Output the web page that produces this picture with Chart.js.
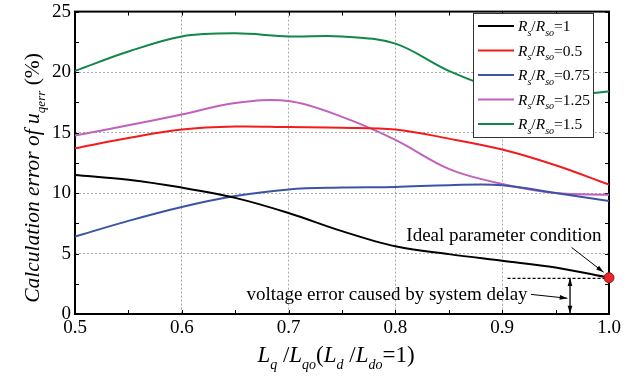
<!DOCTYPE html>
<html>
<head>
<meta charset="utf-8">
<script src="https://cdn.jsdelivr.net/npm/chart.js@4.4.1/dist/chart.umd.min.js"></script>
<style>
html, body { margin: 0; padding: 0; background: #fff; }
</style>
</head>
<body>
<canvas id="chart" width="638" height="380"></canvas>
<script>
// --- dados ---
const lqRatio = [0.5, 0.55, 0.6, 0.65, 0.7, 0.75, 0.8, 0.85, 0.9, 0.95, 1.0];

const errRs1    = [11.5, 11.1, 10.45, 9.6, 8.35, 6.85, 5.6, 4.95, 4.4, 3.85, 3.0];
const errRs050  = [13.7, 14.55, 15.25, 15.5, 15.45, 15.4, 15.25, 14.5, 13.6, 12.3, 10.7];
const errRs075  = [6.4, 7.7, 8.85, 9.75, 10.3, 10.45, 10.5, 10.65, 10.65, 10.0, 9.35];
const errRs125  = [14.75, 15.6, 16.5, 17.45, 17.6, 16.3, 14.4, 12.0, 10.75, 10.0, 9.85];
const errRs150  = [20.1, 21.7, 22.95, 23.2, 22.95, 22.95, 22.35, 20.1, 18.5, 18.05, 18.4];

const rsLabels = ['1', '0.5', '0.75', '1.25', '1.5'];
const seriesColors = ['#000000', '#f21c1c', '#3b54a5', '#c061bd', '#11884a'];

const xTicks = [0.5, 0.6, 0.7, 0.8, 0.9, 1.0];
const yTicks = [0, 5, 10, 15, 20, 25];

// anotações (coordenadas em unidades dos eixos)
const idealPoint = [1.0, 3.0];
const delayLine = [[0.905, 2.95], [1.0, 2.95]];
const delayArrow = [[0.9635, 0.05], [0.9635, 2.95]];
const idealText = 'Ideal parameter condition';
const delayText = 'voltage error caused by system delay';

const allSeries = [errRs1, errRs050, errRs075, errRs125, errRs150];
const serif = '"Liberation Serif", "Times New Roman", serif';
Chart.defaults.font.family = serif;

function isMajor(v, step) {
    const r = v / step;
    return Math.abs(r - Math.round(r)) < 1e-6;
}

function fontFor(st, size) {
    if (st === 's') return `italic ${Math.round(size * 0.62)}px ${serif}`;
    if (st === 'i') return `italic ${size}px ${serif}`;
    return `${size}px ${serif}`;
}

// desenha texto com índices (subscritos)
function richWidth(ctx, parts, size) {
    let w = 0;
    parts.forEach(([t, st]) => {
        ctx.font = fontFor(st, size);
        w += ctx.measureText(t).width;
    });
    return w;
}

function drawRich(ctx, parts, x, y, size, align) {
    let cx = align === 'center' ? x - richWidth(ctx, parts, size) / 2 : x;
    ctx.textAlign = 'left';
    ctx.textBaseline = 'alphabetic';
    parts.forEach(([t, st]) => {
        ctx.font = fontFor(st, size);
        const dy = st === 's' ? size * 0.3 : 0;
        ctx.fillText(t, cx, y + dy);
        cx += ctx.measureText(t).width;
    });
}

function arrowHead(ctx, x1, y1, x2, y2, len) {
    const a = Math.atan2(y2 - y1, x2 - x1);
    ctx.beginPath();
    ctx.moveTo(x2, y2);
    ctx.lineTo(x2 - len * Math.cos(a - 0.3), y2 - len * Math.sin(a - 0.3));
    ctx.lineTo(x2 - len * Math.cos(a + 0.3), y2 - len * Math.sin(a + 0.3));
    ctx.closePath();
    ctx.fill();
}

const framePlugin = {
    id: 'frame',
    beforeDatasetsDraw(chart) {
        const { ctx, chartArea: a, scales } = chart;
        ctx.save();
        ctx.strokeStyle = '#000';
        ctx.lineWidth = 1;
        // marcas internas
        scales.x.ticks.forEach(t => {
            const px = Math.round(scales.x.getPixelForValue(t.value)) + 0.5;
            ctx.beginPath();
            ctx.moveTo(px, a.bottom); ctx.lineTo(px, a.bottom - 4);
            ctx.moveTo(px, a.top); ctx.lineTo(px, a.top + 4);
            ctx.stroke();
        });
        scales.y.ticks.forEach(t => {
            const py = Math.round(scales.y.getPixelForValue(t.value)) + 0.5;
            ctx.beginPath();
            ctx.moveTo(a.left, py); ctx.lineTo(a.left + 4, py);
            ctx.moveTo(a.right, py); ctx.lineTo(a.right - 4, py);
            ctx.stroke();
        });
        ctx.lineWidth = 2;
        ctx.strokeRect(a.left, a.top, a.right - a.left, a.bottom - a.top);
        ctx.restore();
    },
    afterDatasetsDraw(chart) {
        const { ctx, chartArea: a, scales } = chart;
        const X = v => scales.x.getPixelForValue(v);
        const Y = v => scales.y.getPixelForValue(v);
        ctx.save();
        ctx.fillStyle = '#000';

        // título eixo y
        ctx.save();
        ctx.translate(39, 178);
        ctx.rotate(-Math.PI / 2);
        drawRich(ctx, [['Calculation error of ', 'i'], ['u', 'i'], ['qerr', 's'], [' (%)', 'n']], 0, 0, 21.5, 'center');
        ctx.restore();

        // título eixo x
        drawRich(ctx, [['L', 'i'], ['q', 's'], [' /', 'n'], ['L', 'i'], ['qo', 's'], ['(', 'n'], ['L', 'i'], ['d', 's'],
            [' /', 'n'], ['L', 'i'], ['do', 's'], ['=1)', 'n']], 336, 362, 23, 'center');

        // legenda
        const lx = 473, ly = 13, lw = 120, lh = 124;
        ctx.fillStyle = '#fff';
        ctx.fillRect(lx, ly, lw, lh);
        ctx.lineWidth = 1;
        ctx.strokeStyle = '#333';
        ctx.strokeRect(lx + 0.5, ly + 0.5, lw, lh);
        rsLabels.forEach((lab, i) => {
            const yy = ly + 13 + i * 24.5;
            ctx.strokeStyle = seriesColors[i];
            ctx.lineWidth = 2;
            ctx.beginPath();
            ctx.moveTo(lx + 5, yy); ctx.lineTo(lx + 41, yy);
            ctx.stroke();
            ctx.fillStyle = '#000';
            drawRich(ctx, [['R', 'i'], ['s', 's'], ['/', 'n'], ['R', 'i'], ['so', 's'], ['=' + lab, 'n']], lx + 45, yy + 5, 15.5, 'left');
        });

        // anotações
        ctx.fillStyle = '#000';
        ctx.strokeStyle = '#000';
        ctx.font = `19px ${serif}`;
        ctx.textBaseline = 'middle';
        ctx.textAlign = 'right';
        ctx.fillText(idealText, X(0.993), Y(6.45));
        ctx.textAlign = 'left';
        ctx.fillText(delayText, X(0.6605), Y(1.6));

        ctx.lineWidth = 1;
        let p1 = [X(0.965), Y(5.5)], p2 = [X(0.995), Y(3.45)];
        ctx.beginPath(); ctx.moveTo(p1[0], p1[1]); ctx.lineTo(p2[0], p2[1]); ctx.stroke();
        arrowHead(ctx, p1[0], p1[1], p2[0], p2[1], 8);

        p1 = [X(0.927), Y(1.62)]; p2 = [X(0.961), Y(1.3)];
        ctx.beginPath(); ctx.moveTo(p1[0], p1[1]); ctx.lineTo(p2[0], p2[1]); ctx.stroke();
        arrowHead(ctx, p1[0], p1[1], p2[0], p2[1], 8);

        const v0 = [X(delayArrow[0][0]), Y(delayArrow[0][1])];
        const v1 = [X(delayArrow[1][0]), Y(delayArrow[1][1])];
        arrowHead(ctx, v1[0], v1[1], v0[0], v0[1], 8);
        arrowHead(ctx, v0[0], v0[1], v1[0], v1[1], 8);
        ctx.restore();
    }
};

const curveSets = allSeries.map((vals, i) => ({
    label: 'Rs/Rso=' + rsLabels[i],
    data: lqRatio.map((x, j) => ({ x: x, y: vals[j] })),
    borderColor: seriesColors[i],
    borderWidth: 2,
    pointRadius: 0,
    tension: 0.35,
    fill: false
}));

const markSets = [
    {
        label: 'ideal',
        data: [{ x: idealPoint[0], y: idealPoint[1] }],
        showLine: false,
        pointRadius: 5,
        pointBackgroundColor: '#e8252a',
        pointBorderColor: '#a01010',
        pointBorderWidth: 1,
        clip: false,
        order: -1
    },
    {
        label: 'delay',
        data: delayLine.map(p => ({ x: p[0], y: p[1] })),
        borderColor: '#000',
        borderWidth: 1.3,
        borderDash: [3, 2],
        pointRadius: 0,
        clip: false
    },
    {
        label: 'arrow',
        data: delayArrow.map(p => ({ x: p[0], y: p[1] })),
        borderColor: '#000',
        borderWidth: 1.3,
        pointRadius: 0,
        clip: false
    }
];

new Chart(document.getElementById('chart'), {
    type: 'line',
    data: { datasets: curveSets.concat(markSets) },
    options: {
        responsive: false,
        animation: false,
        devicePixelRatio: 1,
        layout: { padding: { left: 0, top: 7, right: 29, bottom: 0 } },
        plugins: { legend: { display: false }, tooltip: { enabled: false } },
        scales: {
            x: {
                type: 'linear',
                min: 0.5,
                max: 1.0,
                afterFit: s => { s.height = 66; },
                afterBuildTicks: s => { s.ticks = []; for (let k = 0; k <= 10; k++) s.ticks.push({ value: 0.5 + k * 0.05 }); },
                ticks: {
                    autoSkip: false,
                    maxRotation: 0,
                    padding: 5,
                    color: '#000',
                    font: { family: serif, size: 19, lineHeight: 0.9 },
                    callback: v => xTicks.some(t => Math.abs(t - v) < 1e-6) ? v.toFixed(1) : ''
                },
                grid: {
                    drawTicks: false,
                    color: c => (c.tick && isMajor(c.tick.value, 0.1)) ? '#a8a8a8' : 'rgba(0,0,0,0)'
                },
                border: { display: false, dash: [2, 2] }
            },
            y: {
                min: 0,
                max: 25,
                afterFit: s => { s.width = 75; },
                afterBuildTicks: s => { s.ticks = []; for (let k = 0; k <= 10; k++) s.ticks.push({ value: k * 2.5 }); },
                ticks: {
                    autoSkip: false,
                    padding: 4,
                    color: '#000',
                    font: { family: serif, size: 19, lineHeight: 0.8 },
                    callback: v => yTicks.includes(v) ? String(v) : ''
                },
                grid: {
                    drawTicks: false,
                    color: c => (c.tick && isMajor(c.tick.value, 5)) ? '#a8a8a8' : 'rgba(0,0,0,0)'
                },
                border: { display: false, dash: [2, 2] }
            }
        }
    },
    plugins: [framePlugin]
});
</script>
</body>
</html>
